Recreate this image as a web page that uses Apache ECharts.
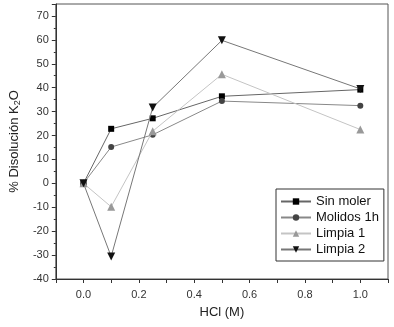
<!DOCTYPE html>
<html>
<head>
<meta charset="utf-8">
<script src="https://cdn.jsdelivr.net/npm/echarts@6/dist/echarts.min.js"></script>
<style>
  html, body { margin: 0; padding: 0; background: #fff; }
  #chart { width: 394px; height: 327px; }
</style>
</head>
<body>
<div id="chart"></div>
<script>
    // HCl concentration (M)
    var hcl = [0.0, 0.1, 0.25, 0.5, 1.0];
    // % disolucion K2O por serie
    var sinMoler = [0, 22.8, 27.2, 36.4, 39.2];
    var molidos1h = [0, 15.2, 20.3, 34.4, 32.5];
    var limpia1 = [0, -9.8, 21.8, 45.6, 22.5];
    var limpia2 = [0, -30.6, 31.7, 59.8, 39.5];

    function pairs(xs, ys) {
        var out = [];
        for (var i = 0; i < xs.length; i++) {
            out.push([xs[i], ys[i]]);
        }
        return out;
    }

    var font = 'Liberation Sans, Arial, sans-serif';

    function makeSeries(name, ys, symbol, size, lineColor, markColor, rotate, z) {
        return {
            name: name,
            type: 'line',
            z: z,
            data: pairs(hcl, ys),
            symbol: symbol,
            symbolSize: size,
            symbolRotate: rotate || 0,
            showAllSymbol: true,
            lineStyle: { color: lineColor, width: 1 },
            itemStyle: { color: markColor },
            emphasis: { disabled: true },
            animation: false
        };
    }

    var chart = echarts.init(document.getElementById('chart'));

    var option = {
        animation: false,
        textStyle: { fontFamily: font },
        grid: {
            left: 52,
            top: 4,
            right: 6,
            bottom: 48,
            show: true,
            borderColor: '#555',
            borderWidth: 1
        },
        legend: {
            left: 276,
            top: 189,
            orient: 'vertical',
            itemWidth: 30,
            itemHeight: 8,
            itemGap: 3,
            padding: [6, 5, 5, 4],
            borderColor: '#333',
            borderWidth: 1,
            textStyle: { fontSize: 13, color: '#111', fontFamily: font },
            data: ['Sin moler', 'Molidos 1h', 'Limpia 1', 'Limpia 2']
        },
        xAxis: {
            type: 'value',
            min: -0.1,
            max: 1.1,
            interval: 0.1,
            name: 'HCl (M)',
            nameLocation: 'middle',
            nameGap: 27,
            nameTextStyle: { fontSize: 13, color: '#222' },
            axisLine: { onZero: false, lineStyle: { color: '#333' } },
            axisTick: { show: true, length: 4, lineStyle: { color: '#333' } },
            axisLabel: {
                fontSize: 11,
                color: '#333',
                margin: 10,
                formatter: function (v) {
                    var k = Math.round(v * 10);
                    if (k < 0 || k > 10 || k % 2 !== 0) return '';
                    return (k / 10).toFixed(1);
                }
            },
            splitLine: { show: false }
        },
        yAxis: {
            type: 'value',
            min: -40,
            max: 75,
            interval: 10,
            name: '{a|% Disolución K}{s|2}{a|O}',
            nameLocation: 'middle',
            nameGap: 32,
            nameTextStyle: {
                rich: {
                    a: { fontSize: 13, color: '#222', fontFamily: font },
                    s: { fontSize: 9, color: '#222', fontFamily: font, padding: [6, 0, 0, 0] }
                }
            },
            axisLine: { show: true, onZero: false, lineStyle: { color: '#333' } },
            axisTick: { show: true, length: 4, lineStyle: { color: '#333' } },
            minorTick: { show: true, splitNumber: 2, length: 2, lineStyle: { color: '#333' } },
            axisLabel: {
                fontSize: 11,
                color: '#333',
                margin: 7,
                formatter: function (v) {
                    if (v % 10 !== 0) return '';
                    return String(v);
                }
            },
            splitLine: { show: false }
        },
        series: [
            makeSeries('Sin moler', sinMoler, 'rect', 6, '#666', '#000', 0, 2),
            makeSeries('Molidos 1h', molidos1h, 'circle', 6, '#888', '#444', 0, 3),
            makeSeries('Limpia 1', limpia1, 'triangle', 8, '#c4c4c4', '#999', 0, 4),
            makeSeries('Limpia 2', limpia2, 'triangle', 8, '#777', '#111', 180, 5)
        ]
    };

    chart.setOption(option);
</script>
</body>
</html>
